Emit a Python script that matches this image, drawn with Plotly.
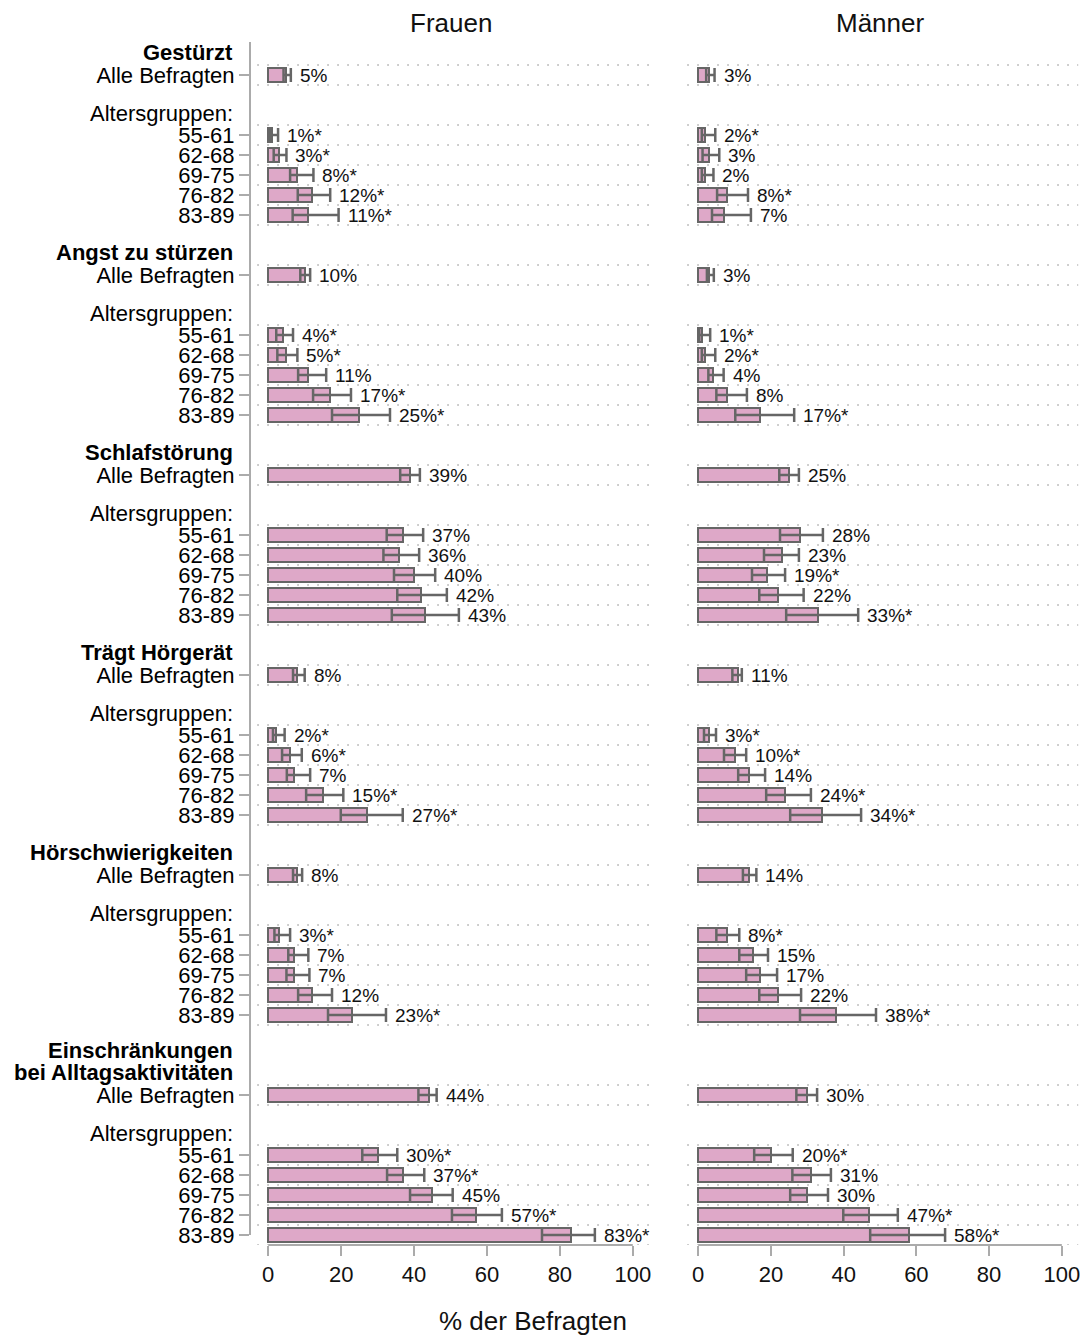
import plotly.graph_objects as go

# ---------------- data ----------------
sections = ["Gestürzt", "Angst zu stürzen", "Schlafstörung", "Trägt Hörgerät",
            "Hörschwierigkeiten", "Einschränkungen|bei Alltagsaktivitäten"]
row_labels = ["Alle Befragten", "55-61", "62-68", "69-75", "76-82", "83-89"]
group_header = "Altersgruppen:"
panels = ["Frauen", "Männer"]
x_ticks = [0, 20, 40, 60, 80, 100]
x_title = "% der Befragten"

frauen_val = [5, 1, 3, 8, 12, 11,
              10, 4, 5, 11, 17, 25,
              39, 37, 36, 40, 42, 43,
              8, 2, 6, 7, 15, 27,
              8, 3, 7, 7, 12, 23,
              44, 30, 37, 45, 57, 83]
frauen_sig = [0, 1, 1, 1, 1, 1,
              0, 1, 1, 0, 1, 1,
              0, 0, 0, 0, 0, 0,
              0, 1, 1, 0, 1, 1,
              0, 1, 0, 0, 0, 1,
              0, 1, 1, 0, 1, 1]
frauen_lo = [4.2, 0.5, 1.5, 6.0, 8.1, 6.7,
             8.8, 2.2, 2.5, 8.2, 12.3, 17.5,
             36.2, 32.5, 31.6, 34.5, 35.4, 33.9,
             6.8, 1.3, 3.8, 5.1, 10.4, 19.9,
             6.8, 1.7, 5.5, 5.0, 8.2, 16.4,
             41.2, 25.8, 32.6, 38.9, 50.4, 75.1]
frauen_hi = [6.2, 2.7, 5.0, 12.4, 17.0, 19.3,
             11.5, 6.8, 8.0, 15.9, 22.7, 33.4,
             41.6, 42.5, 41.4, 45.8, 49.0, 52.3,
             10.0, 4.5, 9.2, 11.5, 20.6, 36.9,
             9.3, 6.0, 11.0, 11.3, 17.5, 32.3,
             46.2, 35.4, 42.8, 50.6, 64.1, 89.6]

maenner_val = [3, 2, 3, 2, 8, 7,
               3, 1, 2, 4, 8, 17,
               25, 28, 23, 19, 22, 33,
               11, 3, 10, 14, 24, 34,
               14, 8, 15, 17, 22, 38,
               30, 20, 31, 30, 47, 58]
maenner_sig = [0, 1, 0, 0, 1, 0,
               0, 1, 1, 0, 0, 1,
               0, 0, 0, 1, 0, 1,
               0, 1, 1, 0, 1, 1,
               0, 1, 0, 0, 0, 1,
               0, 1, 0, 0, 1, 1]
maenner_lo = [2.2, 1.0, 1.2, 1.0, 5.2, 3.8,
              2.4, 0.3, 1.0, 2.8, 5.0, 10.2,
              22.3, 22.5, 18.1, 14.8, 16.8, 24.2,
              9.4, 1.6, 7.1, 11.0, 18.7, 25.3,
              12.3, 5.0, 11.3, 13.2, 16.8, 28.0,
              27.0, 15.4, 25.9, 25.3, 39.9, 47.3]
maenner_hi = [4.5, 4.7, 5.8, 4.2, 13.7, 14.5,
              4.3, 3.3, 4.7, 7.0, 13.4, 26.4,
              27.7, 34.3, 27.7, 23.9, 29.0, 44.0,
              12.0, 4.9, 13.2, 18.4, 31.0, 44.8,
              16.0, 11.3, 19.2, 21.7, 28.3, 48.9,
              32.7, 26.0, 36.5, 35.7, 54.9, 67.9]

# ---------------- layout helpers ----------------
OFF = 8                      # browser body margin
W, H = 1088 - OFF, 1338 - OFF
PT, PB = 42 - OFF, 1245 - OFF   # plot top / bottom in figure px
Y_TOP, Y_BOT = -1.65, 58.5      # row units at top/bottom
XR = [-5, 105]
BAR = "#dea8c8"
EDGE = "#666666"
GRID = "#aaaaaa"
AX = "#ababab"
FONT = "Liberation Sans, Arial, sans-serif"


def px_x(p):
    return (p - OFF) / W


# compute row positions from structure
bar_rows, bar_text = [], []
title_pos, header_pos = [], []
r = 0
for s in sections:
    lines = s.split("|")
    r += len(lines) - 1
    title_pos.append((lines, r))
    bar_rows.append(r)
    bar_text.append(row_labels[0])
    header_pos.append(r + 2)
    for i, lab in enumerate(row_labels[1:]):
        bar_rows.append(r + 3 + i)
        bar_text.append(lab)
    r += 10

fig = go.Figure()
series = [(frauen_val, frauen_lo, frauen_hi, frauen_sig, "x", "y"),
          (maenner_val, maenner_lo, maenner_hi, maenner_sig, "x2", "y2")]

annotations = []
for vals, lo, hi, sig, xa, ya in series:
    # dotted separators
    gx, gy = [], []
    bset = sorted(set([b - 0.5 for b in bar_rows] + [b + 0.5 for b in bar_rows]))
    for b in bset:
        gx += [-3, 104.5, None]
        gy += [b, b, None]
    fig.add_trace(go.Scatter(x=gx, y=gy, mode="lines", xaxis=xa, yaxis=ya,
                             line=dict(color=GRID, width=1.3, dash="1.5px,8.5px"),
                             hoverinfo="skip", showlegend=False))
    fig.add_trace(go.Bar(
        x=vals, y=bar_rows, orientation="h", width=0.7, xaxis=xa, yaxis=ya,
        marker=dict(color=BAR, line=dict(color=EDGE, width=2)),
        error_x=dict(type="data", symmetric=False,
                     array=[h - v for h, v in zip(hi, vals)],
                     arrayminus=[v - l for v, l in zip(vals, lo)],
                     color=EDGE, thickness=2.5, width=7),
        showlegend=False, hoverinfo="skip"))
    for v, h, s_, yr in zip(vals, hi, sig, bar_rows):
        annotations.append(dict(x=h, y=yr, xref=xa, yref=ya, text=f"{v}%" + ("*" if s_ else ""),
                                showarrow=False, xanchor="left", yanchor="middle", xshift=7,
                                font=dict(size=19, color="#111", family=FONT)))

# section titles and header labels
lab_x = px_x(235)
for lines, rr in title_pos:
    n = len(lines)
    for j, ln in enumerate(lines):
        annotations.append(dict(x=lab_x, y=rr - 1.15 - 1.1 * (n - 1 - j), xref="paper", yref="y",
                                text=f"<b>{ln}</b>", showarrow=False, xanchor="right", yanchor="middle",
                                font=dict(size=22, color="#000", family=FONT)))
for hp in header_pos:
    annotations.append(dict(x=lab_x, y=hp - 0.1, xref="paper", yref="y", text=group_header,
                            showarrow=False, xanchor="right", yanchor="middle",
                            font=dict(size=22, color="#000", family=FONT)))

# panel titles
ph = PB - PT
for p, xa in zip(panels, ["x", "x2"]):
    annotations.append(dict(x=50, y=1 + (42 - 23) / ph, xref=xa, yref="paper", text=p,
                            showarrow=False, xanchor="center", yanchor="middle",
                            font=dict(size=26, color="#111", family=FONT)))
annotations.append(dict(x=px_x(533), y=-(1321 - 1245) / ph, xref="paper", yref="paper", text=x_title,
                        showarrow=False, xanchor="center", yanchor="middle",
                        font=dict(size=26, color="#111", family=FONT)))

shapes = []
# x axis lines 0..100
for xa in ["x", "x2"]:
    shapes.append(dict(type="line", xref=xa, yref="paper", x0=x_ticks[0], x1=x_ticks[-1], y0=0, y1=0,
                       line=dict(color=AX, width=2)))
# y axis line on left panel
shapes.append(dict(type="line", xref="x domain", yref="y", x0=0, x1=0, y0=Y_TOP, y1=bar_rows[-1],
                   line=dict(color=AX, width=2)))

xcommon = dict(range=XR, showgrid=False, zeroline=False, showline=False, tickvals=x_ticks,
               ticks="outside", ticklen=10, tickwidth=2, tickcolor=AX,
               tickfont=dict(size=22, color="#111", family=FONT), fixedrange=True)
fig.update_layout(
    width=W, height=H, plot_bgcolor="white", paper_bgcolor="white",
    margin=dict(l=0, r=0, t=PT, b=H - PB),
    bargap=0, font=dict(family=FONT),
    xaxis=dict(domain=[px_x(250), px_x(651)], anchor="y", **xcommon),
    xaxis2=dict(domain=[px_x(680), px_x(1080)], anchor="y2", **xcommon),
    yaxis=dict(range=[Y_BOT, Y_TOP], tickvals=bar_rows, ticktext=bar_text, showgrid=False,
               zeroline=False, showline=False, ticks="outside", ticklen=10, tickwidth=1.5,
               tickcolor=AX, tickfont=dict(size=22, color="#000", family=FONT), anchor="x"),
    yaxis2=dict(range=[Y_BOT, Y_TOP], showticklabels=False, showgrid=False, zeroline=False,
                showline=False, ticks="", anchor="x2", matches="y"),
    annotations=annotations, shapes=shapes, showlegend=False,
)

fig.write_html("out.html")
